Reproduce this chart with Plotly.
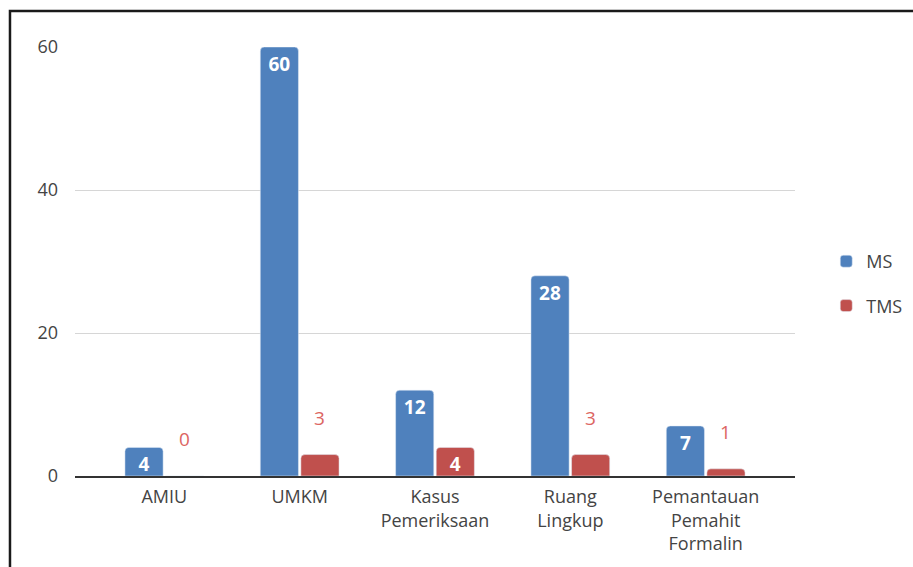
import plotly.graph_objects as go

# Hasil pemeriksaan per kegiatan
categories = ["AMIU", "UMKM", "Kasus<br>Pemeriksaan", "Ruang<br>Lingkup", "Pemantauan<br>Pemahit<br>Formalin"]
ms_values = [4, 60, 12, 28, 7]
tms_values = [0, 3, 4, 3, 1]
y_ticks = [0, 20, 40, 60]

MS_COLOR = "#4f81bd"
TMS_COLOR = "#c0504d"
TMS_LABEL_COLOR = "#dc6562"
FONT = "Open Sans"

# Labels that fit inside a bar are drawn by the trace; smaller ones float above it
INSIDE_MIN = 4
tms_inside_text = [str(v) if v >= INSIDE_MIN else "" for v in tms_values]

inside_font = dict(family=FONT, size=19, color="white", weight="bold")

fig = go.Figure()
fig.add_trace(go.Bar(
    x=list(range(len(categories))), y=ms_values, name="MS",
    marker=dict(color=MS_COLOR, cornerradius=4),
    text=[str(v) for v in ms_values], textposition="inside",
    insidetextanchor="end", textangle=0,
    textfont=inside_font, legendgroup="ms",
    hoverinfo="x+y",
))
fig.add_trace(go.Bar(
    x=list(range(len(categories))), y=tms_values, name="TMS",
    marker=dict(color=TMS_COLOR, cornerradius=4),
    text=tms_inside_text, textposition="inside",
    insidetextanchor="end", textangle=0,
    textfont=inside_font, legendgroup="tms",
    hoverinfo="x+y",
))

# Value labels for the short TMS bars, set above the bar top
bar_slot = 0.6 / 2
for i, v in enumerate(tms_values):
    if v < INSIDE_MIN:
        fig.add_annotation(
            x=i + bar_slot / 2, y=v, xref="x", yref="y",
            text=str(v), showarrow=False, yanchor="bottom", yshift=22,
            font=dict(family=FONT, size=19, color=TMS_LABEL_COLOR),
        )

# Outer frame around the chart
fig.add_shape(
    type="rect", xref="paper", yref="paper",
    x0=-0.0903, x1=1.3, y0=-0.4, y1=1.0839,
    line=dict(color="#1a1a1a", width=2.5), fillcolor="rgba(0,0,0,0)",
    layer="below",
)

fig.update_layout(
    width=913, height=567,
    margin=dict(l=75, r=118, t=47, b=91),
    paper_bgcolor="white", plot_bgcolor="white",
    barmode="group", bargap=0.4, bargroupgap=0.06,
    uniformtext=dict(minsize=19, mode="show"),
    font=dict(family=FONT, size=18, color="#444444"),
    showlegend=True,
    legend=dict(
        xref="container", yref="container",
        x=0.905, y=0.5, xanchor="left", yanchor="middle",
        font=dict(family=FONT, size=18, color="#444444"),
        traceorder="grouped", tracegroupgap=18,
        bgcolor="rgba(0,0,0,0)",
    ),
    xaxis=dict(
        tickmode="array", tickvals=list(range(len(categories))), ticktext=categories,
        range=[-0.66, len(categories) - 1 + 0.66],
        showgrid=False, zeroline=False,
        showline=True, linecolor="#333333", linewidth=1.5,
        ticks="", tickfont=dict(family=FONT, size=18, color="#444444"),
        ticklabelstandoff=4,
        fixedrange=True,
    ),
    yaxis=dict(
        range=[0, 60], tickvals=y_ticks,
        showgrid=True, gridcolor="#d6d6d6", gridwidth=1.3,
        zeroline=False, showline=False, ticks="",
        tickfont=dict(family=FONT, size=18, color="#444444"),
        ticklabelstandoff=16,
        fixedrange=True,
    ),
)

fig.write_html("out.html")
